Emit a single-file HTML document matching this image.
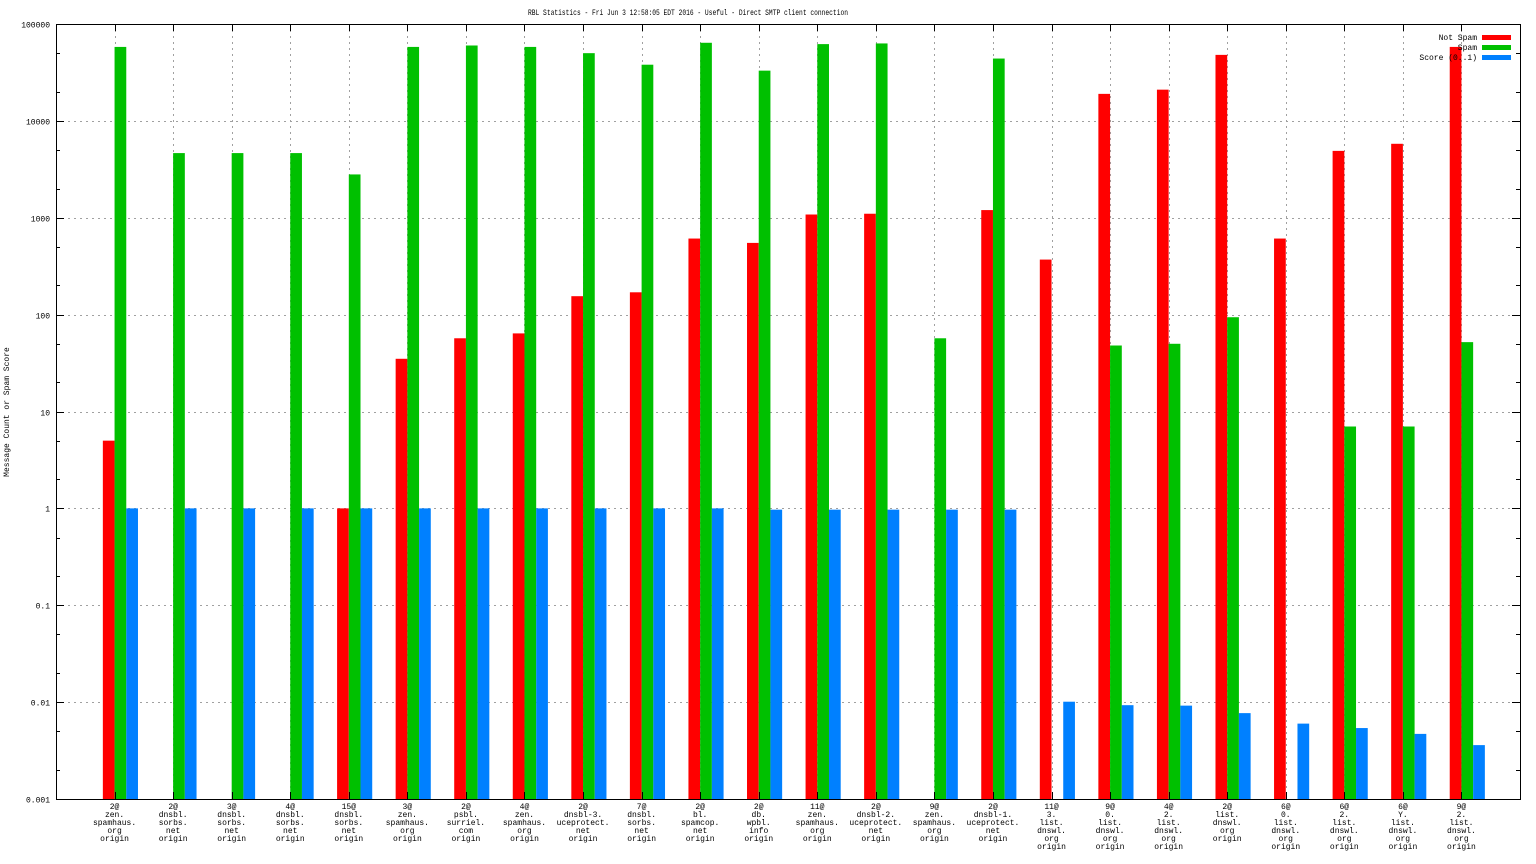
<!DOCTYPE html>
<html><head><meta charset="utf-8"><style>
html,body{margin:0;padding:0;background:#fff;}
svg{display:block;font-family:"Liberation Mono",monospace;}
</style></head><body>
<svg id="chart" width="1536" height="864" xmlns="http://www.w3.org/2000/svg">
<text x="688" y="15" font-size="8" text-anchor="middle" textLength="320" lengthAdjust="spacingAndGlyphs">RBL Statistics - Fri Jun  3 12:58:05 EDT 2016 - Useful - Direct SMTP client connection</text>
<text transform="translate(9,412) rotate(-90)" font-size="8" text-anchor="middle">Message Count or Spam Score</text>
<g id="grid"></g><g id="bars"></g><g id="axes"></g><g id="labels"></g>
<g>
<text x="1477" y="40" font-size="8" text-anchor="end">Not Spam</text>
<rect x="1482" y="35" width="29" height="5" fill="#ff0000"/>
<text x="1477" y="50" font-size="8" text-anchor="end">Spam</text>
<rect x="1482" y="45" width="29" height="5" fill="#00c000"/>
<text x="1477" y="60" font-size="8" text-anchor="end">Score (0..1)</text>
<rect x="1482" y="55" width="29" height="5" fill="#0080ff"/>
</g>
</svg>
<script>
const categories=[
["2@","zen.","spamhaus.","org","origin"],["2@","dnsbl.","sorbs.","net","origin"],["3@","dnsbl.","sorbs.","net","origin"],["4@","dnsbl.","sorbs.","net","origin"],["15@","dnsbl.","sorbs.","net","origin"],["3@","zen.","spamhaus.","org","origin"],["2@","psbl.","surriel.","com","origin"],["4@","zen.","spamhaus.","org","origin"],["2@","dnsbl-3.","uceprotect.","net","origin"],["7@","dnsbl.","sorbs.","net","origin"],["2@","bl.","spamcop.","net","origin"],["2@","db.","wpbl.","info","origin"],["11@","zen.","spamhaus.","org","origin"],["2@","dnsbl-2.","uceprotect.","net","origin"],["9@","zen.","spamhaus.","org","origin"],["2@","dnsbl-1.","uceprotect.","net","origin"],["11@","3.","list.","dnswl.","org","origin"],["9@","0.","list.","dnswl.","org","origin"],["4@","2.","list.","dnswl.","org","origin"],["2@","list.","dnswl.","org","origin"],["6@","0.","list.","dnswl.","org","origin"],["6@","2.","list.","dnswl.","org","origin"],["6@","Y.","list.","dnswl.","org","origin"],["9@","2.","list.","dnswl.","org","origin"]];
const notSpam=[5,0,0,0,1,35,57,64,155,170,610,550,1080,1100,0,1200,370,19000,21000,48000,610,4900,5800,58000];
const spam=[58000,4650,4650,4650,2800,58000,60000,58000,50000,38000,64000,33000,62000,63000,57,44000,0,48,50,94,0,7,7,52];
const score=[1,1,1,1,1,1,1,1,1,1,1,0.97,0.97,0.97,0.97,0.97,0.0101,0.0093,0.0092,0.0077,0.006,0.0054,0.0047,0.0036];
const yTicks=[0.001,0.01,0.1,1,10,100,1000,10000,100000];
const yTickLabels=["0.001","0.01","0.1","1","10","100","1000","10000","100000"];

const NS="http://www.w3.org/2000/svg";
const L=56,R=1520,T=24,B=799;
const yMin=Math.log10(0.001),yMax=Math.log10(100000);
function y(v){return B-(Math.log10(v)-yMin)/(yMax-yMin)*(B-T);}
const step=(R-L)/(categories.length+1);
function xc(i){return L+(i+1)*step;}
const bw=step/5;
function mk(tag,attrs,parent){const e=document.createElementNS(NS,tag);for(const k in attrs)e.setAttribute(k,attrs[k]);parent.appendChild(e);return e;}
const grid=document.getElementById('grid'),bars=document.getElementById('bars'),axes=document.getElementById('axes'),labels=document.getElementById('labels');
yTicks.forEach((v,i)=>{
  const yy=Math.round(y(v))+0.5;
  if(i>0&&i<yTicks.length-1){const g=mk('line',{x1:L,x2:R,y1:yy,y2:yy,stroke:'#a0a0a0','stroke-dasharray':'2,4'},grid);
  
  }
  const t=mk('text',{x:L-6,y:yy+3,'font-size':8,'text-anchor':'end'},axes);t.textContent=yTickLabels[i];
  
  
  mk('line',{x1:L,x2:L+8,y1:yy,y2:yy,stroke:'#000'},axes);
  mk('line',{x1:R-8,x2:R,y1:yy,y2:yy,stroke:'#000'},axes);
  if(i<yTicks.length-1){[2,5].forEach(m=>{const my=Math.round(y(v*m))+0.5;
    mk('line',{x1:L,x2:L+4,y1:my,y2:my,stroke:'#000'},axes);
    mk('line',{x1:R-4,x2:R,y1:my,y2:my,stroke:'#000'},axes);});}
});
const colors=['#ff0000','#00c000','#0080ff'];
const series=[notSpam,spam,score];
const sNames=['not-spam','spam','score'];
categories.forEach((c,i)=>{
  const cx=xc(i);const gx=Math.round(cx)+0.5;
  const gl=mk('line',{x1:gx,x2:gx,y1:T,y2:B,stroke:'#a0a0a0','stroke-dasharray':'2,4'},grid);
  
  
  mk('line',{x1:gx,x2:gx,y1:T,y2:T+7,stroke:'#000'},axes);
  mk('line',{x1:gx,x2:gx,y1:B-7,y2:B,stroke:'#000'},axes);
  series.forEach((s,k)=>{
    const v=s[i];if(!v)return;
    const x0=cx-bw+k*bw;const yy=y(v);
    const r=mk('rect',{x:x0,y:yy,width:bw,height:B-yy,fill:colors[k]},bars);
    
    
  });
  const t=mk('text',{x:cx,y:809,'font-size':8,'text-anchor':'middle'},labels);
  
  
  c.forEach((ln,j)=>{const ts=mk('tspan',{x:cx,y:809+j*8},t);ts.textContent=ln;});
});
mk('rect',{x:L+0.5,y:T+0.5,width:R-L,height:B-T,fill:'none',stroke:'#000'},axes);
</script>
</body></html>
